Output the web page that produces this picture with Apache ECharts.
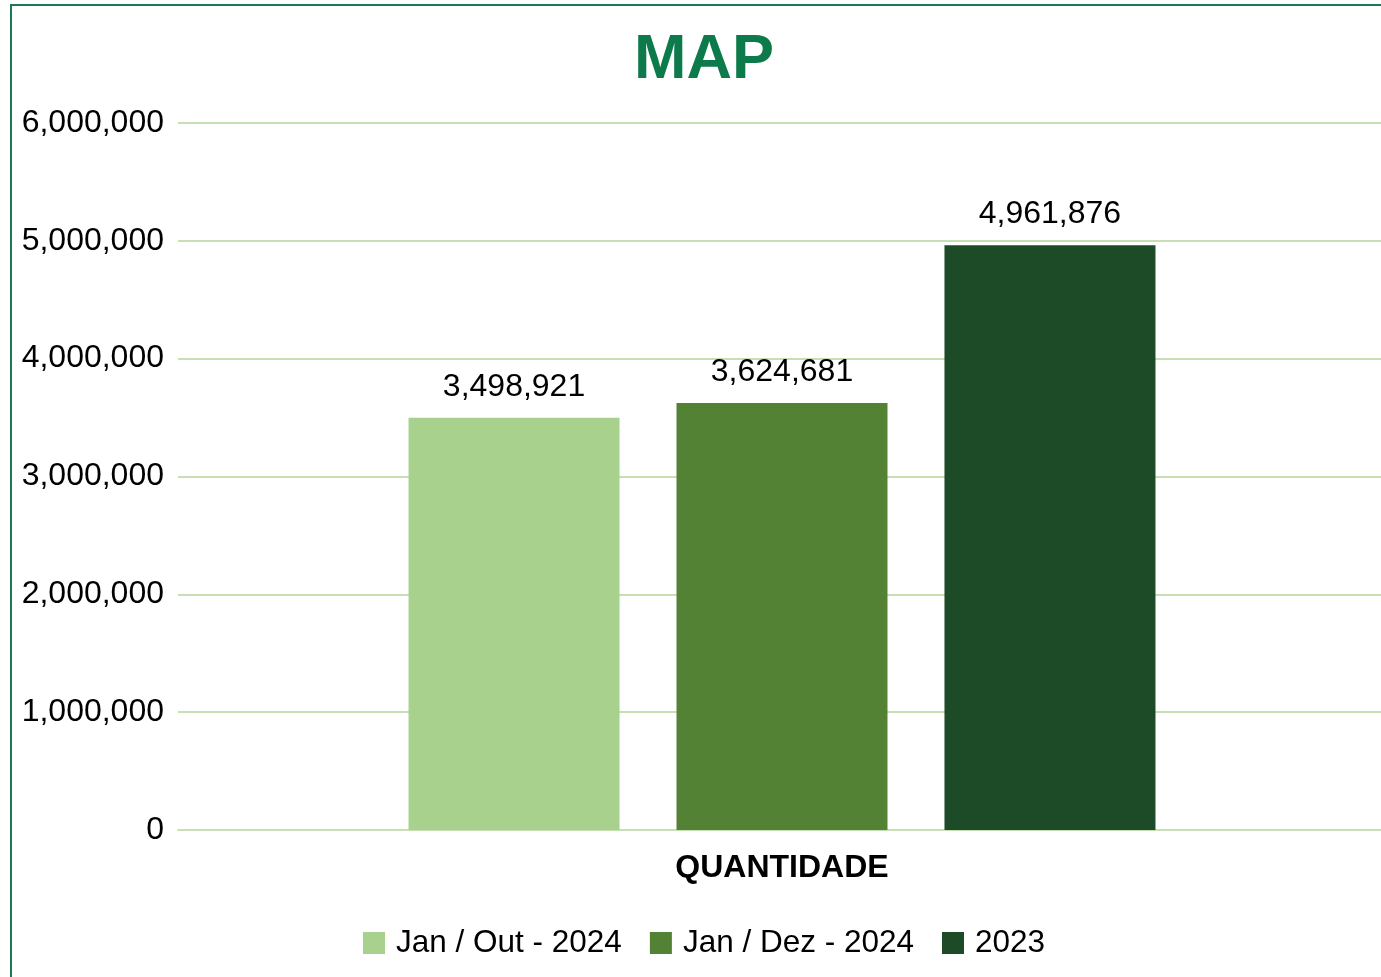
<!DOCTYPE html>
<html>
<head>
<meta charset="utf-8">
<title>MAP</title>
<script src="https://cdn.jsdelivr.net/npm/echarts@6/dist/echarts.min.js"></script>
<style>
    html, body { margin: 0; padding: 0; background: #fff; overflow: hidden; }
    #frame {
        position: absolute; left: 10px; top: 4px;
        width: 1500px; height: 1100px;
        border: 2px solid #1b7a52;
    }
    #chart { position: absolute; left: 0; top: 0; width: 1381px; height: 977px; }
</style>
</head>
<body>
<div id="frame"></div>
<div id="chart"></div>
<script>
    // dados
    const categories = ['QUANTIDADE'];
    const seriesNames = ['Jan / Out - 2024', 'Jan / Dez - 2024', '2023'];
    const seriesValues = [
        [3498921],
        [3624681],
        [4961876]
    ];
    const seriesColors = ['#a9d18e', '#548235', '#1d4b27'];

    const fontFamily = '"Liberation Sans", Arial, sans-serif';
    const fmt = v => Number(v).toLocaleString('en-US');

    const myChart = echarts.init(document.getElementById('chart'));

    const option = {
        animation: false,
        textStyle: { fontFamily: fontFamily },
        title: {
            text: 'MAP',
            left: 629,
            top: 24,
            textStyle: {
                color: '#0c7a4b',
                fontSize: 63,
                fontWeight: 'bold',
                fontFamily: fontFamily
            }
        },
        legend: {
            data: seriesNames,
            top: 922,
            left: 358,
            itemWidth: 22,
            itemHeight: 22,
            itemGap: 28,
            icon: 'rect',
            textStyle: {
                color: '#000',
                fontSize: 31.5,
                padding: [0, 0, 0, 6],
                fontFamily: fontFamily
            }
        },
        grid: {
            left: 178,
            top: 123,
            width: 1208,
            height: 707,
            outerBoundsMode: 'none'
        },
        xAxis: {
            type: 'category',
            data: categories,
            axisLine: { lineStyle: { color: '#c6e0b4', width: 2 } },
            axisTick: { show: false },
            axisLabel: {
                color: '#000',
                fontSize: 32,
                fontWeight: 'bold',
                margin: 22,
                fontFamily: fontFamily
            }
        },
        yAxis: {
            type: 'value',
            min: 0,
            max: 6000000,
            interval: 1000000,
            axisLine: { show: false },
            axisTick: { show: false },
            axisLabel: {
                color: '#000',
                fontSize: 32,
                margin: 14,
                formatter: fmt,
                fontFamily: fontFamily
            },
            splitLine: { lineStyle: { color: '#c6e0b4', width: 2 } }
        },
        series: seriesNames.map((name, i) => ({
            name: name,
            type: 'bar',
            data: seriesValues[i],
            barWidth: 211,
            barGap: '27%',
            itemStyle: { color: seriesColors[i] },
            label: {
                show: true,
                position: 'top',
                distance: 15,
                color: '#000',
                fontSize: 32,
                formatter: p => fmt(p.value),
                fontFamily: fontFamily
            }
        }))
    };

    myChart.setOption(option);
</script>
</body>
</html>
